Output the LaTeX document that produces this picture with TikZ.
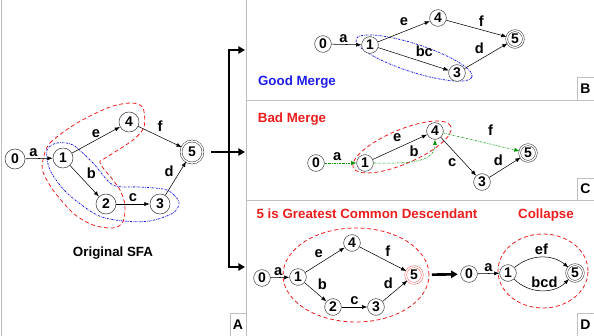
\documentclass[tikz,border=0pt]{standalone}
\usepackage{fontspec}
\setmainfont{Liberation Sans}
\usetikzlibrary{arrows.meta,positioning,calc}
\definecolor{mred}{RGB}{235,30,30}
\definecolor{mblue}{RGB}{30,30,235}
\definecolor{mgreen}{RGB}{0,150,0}
\tikzset{
  st/.style={draw=black!75, fill=white, circle, inner sep=0pt, minimum size=12.5pt, font=\bfseries\fontsize{10.5}{12}\selectfont},
  bigst/.style={st, minimum size=15pt},
  acc/.style={double, double distance=1pt},
  tr/.style={draw, line width=0.4pt, -{Latex[length=4pt,width=3pt]}},
  gtr/.style={tr, draw=mgreen, dash pattern=on 1.5pt off 0.8pt on 0.4pt off 0.8pt},
  lbl/.style={font=\bfseries\fontsize{11}{12}\selectfont, inner sep=1.5pt},
  redloop/.style={draw=mred, line width=0.6pt, dash pattern=on 3pt off 2pt},
  blueloop/.style={draw=mblue, line width=0.6pt, dash pattern=on 1.5pt off 0.8pt on 0.4pt off 0.8pt},
  frame/.style={draw=black!25, line width=0.5pt},
  bigarrow/.style={draw, line width=2pt, -{Triangle[length=5pt,width=5.5pt]}},
  title/.style={font=\bfseries\fontsize{10}{12}\selectfont},
  letter/.style={font=\bfseries\fontsize{10.5}{12}\selectfont}
}

\begin{document}
\begin{tikzpicture}[x=0.75pt, y=0.75pt]
\useasboundingbox (0,0) rectangle (594,-336);

% panel frames
\draw[frame] (1,0) -- (1,-336);
\draw[frame] (246,0) -- (246,-336);
\draw[frame] (246,-100) -- (594,-100);
\draw[frame] (246,-200) -- (594,-200);
\draw[frame] (230,-336) |- (246,-313);
\draw[frame] (577,-100) |- (594,-77);
\draw[frame] (577,-200) |- (594,-178);
\draw[frame] (577,-336) |- (594,-313);
\node[letter] (labA) at (238,-325) {A};
\node[letter] (labB) at (585.5,-89) {B};
\node[letter] (labC) at (585.5,-189) {C};
\node[letter] (labD) at (585.5,-325) {D};

% A: original SFA
\draw[redloop] plot[smooth cycle] coordinates {(43,-160) (50,-143) (77,-123) (110,-107) (132,-103) (143,-108) (144,-127) (133,-140) (107,-157) (100,-163) (113,-180) (120,-190) (125,-205) (123,-222) (113,-228) (93,-225) (73,-213) (53,-190) (43,-172)};
\draw[blueloop] plot[smooth cycle] coordinates {(47,-150) (57,-143) (73,-145) (93,-163) (113,-185) (140,-187) (167,-190) (179,-202) (173,-213) (150,-221) (123,-221) (97,-215) (67,-193) (50,-170)};
\node[bigst] (A0) at (15,-159) {0};
\node[bigst] (A1) at (63,-158) {1};
\node[bigst] (A4) at (129,-122) {4};
\node[bigst, acc, minimum size=16.5pt] (A5) at (192,-152) {5};
\node[bigst] (A2) at (106,-204) {2};
\node[bigst] (A3) at (160,-204) {3};
\draw[tr] (A0) -- node[lbl, above, pos=0.3] {a} (A1);
\draw[tr] (A1) -- node[lbl, above] {e} (A4);
\draw[tr] (A4) -- node[lbl, above=2pt] {f} (A5);
\draw[tr] (A1) -- node[lbl, above right] {b} (A2);
\draw[tr] (A2) -- node[lbl, above] {c} (A3);
\draw[tr] (A3) -- node[lbl, above left] {d} (A5);
\node[title] (origA) at (113,-253) {Original SFA};

% bracket to the right panels
\coordinate (toB) at (245,-50);
\coordinate (toC) at (245,-152);
\coordinate (toD) at (245,-267);
\coordinate (brk) at (229,-152);
\draw[bigarrow, shorten <=6pt] (A5) -- (toC);
\draw[bigarrow] (brk) |- (toB);
\draw[bigarrow] (brk) |- (toD);

% B: good merge
\draw[blueloop, rotate around={-18:(414,-58)}] (414,-58) ellipse [x radius=61, y radius=14];
\node[st] (B0) at (323,-44) {0};
\node[st] (B1) at (370,-45) {1};
\node[st] (B4) at (438,-18) {4};
\node[st, acc] (B5) at (515,-39) {5};
\node[st] (B3) at (457,-73) {3};
\draw[tr] (B0) -- node[lbl, above, pos=0.4] {a} (B1);
\draw[tr] (B1) -- node[lbl, above=3pt] {e} (B4);
\draw[tr] (B4) -- node[lbl, above right] {f} (B5);
\draw[tr] (B1) -- node[lbl, above right] {bc} (B3);
\draw[tr] (B3) -- node[lbl, above left] {d} (B5);
\node[title, text=mblue] (goodB) at (297,-82) {Good Merge};

% C: bad merge
\draw[redloop, rotate around={23:(402,-147)}] (402,-147) ellipse [x radius=53, y radius=17];
\node[st] (C0) at (316,-163) {0};
\node[st] (C1) at (365,-163) {1};
\node[st] (C4) at (435,-131) {4};
\node[st, acc] (C5) at (528,-153) {5};
\node[st] (C3) at (482,-182) {3};
\draw[gtr] (C0) -- node[lbl, above, pos=0.4] {a} (C1);
\draw[tr] (C1) -- node[lbl, above=3pt, pos=0.45] {e} (C4);
\draw[gtr] (C1) to[out=0, in=-90] node[lbl, above left, pos=0.6] {b} (C4);
\draw[gtr] (C4) -- node[lbl, above=5pt, pos=0.62] {f} (C5);
\draw[tr] (C4) -- node[lbl, below left] {c} (C3);
\draw[tr] (C3) -- node[lbl, above left] {d} (C5);
\node[title, text=mred] (badC) at (292,-119) {Bad Merge};

% D: collapse
\draw[redloop] (356,-275) ellipse [x radius=73, y radius=47];
\node[st] (D0) at (262,-278) {0};
\node[st] (D1) at (298,-277) {1};
\node[st] (D4) at (352,-243) {4};
\node[st, acc, draw=mred!65] (D5) at (414,-275) {5};
\node[st] (D2) at (333,-307) {2};
\node[st] (D3) at (376,-307) {3};
\draw[tr] (D0) -- node[lbl, above, pos=0.4] {a} (D1);
\draw[tr] (D1) -- node[lbl, above left] {e} (D4);
\draw[tr] (D4) -- node[lbl, above right] {f} (D5);
\draw[tr] (D1) -- node[lbl, above right] {b} (D2);
\draw[tr] (D2) -- node[lbl, above] {c} (D3);
\draw[tr] (D3) -- node[lbl, above left] {d} (D5);
\node[title, text=mred] (gcdD) at (367,-214) {5 is Greatest Common Descendant};

\draw[redloop] (543,-271) ellipse [x radius=45, y radius=37];
\node[st] (E0) at (469,-274) {0};
\node[st] (E1) at (508,-273) {1};
\node[st, acc] (E5) at (575,-273) {5};
\draw[bigarrow, shorten <=7pt, shorten >=2pt] (D5) -- (E0);
\draw[tr] (E0) -- node[lbl, above] {a} (E1);
\draw[tr] (E1) to[bend left=40] node[lbl, above] {ef} (E5);
\draw[tr] (E1) to[bend right=45] node[lbl, above, pos=0.55] {bcd} (E5);
\node[title, text=mred] (colD) at (546,-215) {Collapse};
\end{tikzpicture}
\end{document}
